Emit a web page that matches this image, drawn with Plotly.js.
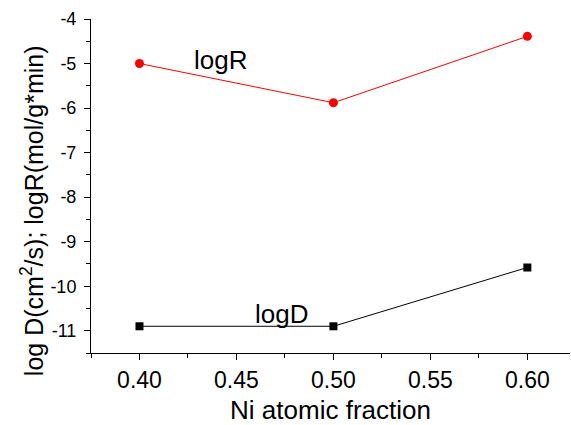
<!DOCTYPE html>
<html><head><meta charset="utf-8">
<script src="https://cdn.plot.ly/plotly-3.0.1.min.js"></script>
<style>body{margin:0;background:#fff}#c{width:571px;height:425px}</style>
</head><body><div id="c"></div>
<script>
const fraction = [0.40, 0.50, 0.60];
const logR = [-5.0, -5.88, -4.39];
const logD = [-10.9, -10.9, -9.58];
const xTicks = [0.40, 0.45, 0.50, 0.55, 0.60];
const xTickText = ['0.40','0.45','0.50','0.55','0.60'];
const yTicks = [-4,-5,-6,-7,-8,-9,-10,-11];
const yTickText = ['-4','-5','-6','-7','-8','-9','-10','-11'];

const font = 'Arial, "Liberation Sans", sans-serif';
const data = [
  {x: fraction, y: logR, mode: 'lines+markers', line: {color: '#ff0000', width: 1},
   marker: {symbol: 'circle', size: 9, color: '#ff0000'}, showlegend: false},
  {x: fraction, y: logD, mode: 'lines+markers', line: {color: '#000000', width: 1},
   marker: {symbol: 'square', size: 8, color: '#000000'}, showlegend: false}
];
const layout = {
  width: 571, height: 425,
  margin: {l: 91, r: 1, t: 19, b: 72},
  paper_bgcolor: '#fff', plot_bgcolor: '#fff',
  font: {family: font, color: '#000'},
  xaxis: {range: [0.375, 0.622], tickvals: xTicks, ticktext: xTickText,
    ticks: 'outside', ticklen: 6, tickwidth: 1, tickcolor: '#000',
    minor: {dtick: 0.025, tick0: 0.375, ticks: 'outside', ticklen: 4, tickcolor: '#000'},
    showline: true, linecolor: '#000', linewidth: 1, showgrid: false, zeroline: false,
    tickfont: {size: 23, family: font},
    title: {text: 'Ni atomic fraction', font: {size: 26, family: font}, standoff: 15}},
  yaxis: {range: [-11.5, -4], tickvals: yTicks, ticktext: yTickText,
    ticks: 'outside', ticklen: 6, tickwidth: 1, tickcolor: '#000', ticklabelstandoff: 4,
    minor: {dtick: 0.5, tick0: -4, ticks: 'outside', ticklen: 4, tickcolor: '#000'},
    showline: true, linecolor: '#000', linewidth: 1, showgrid: false, zeroline: false,
    tickfont: {size: 18, family: font}},
  annotations: [
    {xref: 'paper', yref: 'paper', x: -0.123, y: 0.425, xanchor: 'center', yanchor: 'middle',
     textangle: -90, text: 'log D(cm<sup>2</sup>/s); logR(mol/g*min)', showarrow: false,
     font: {size: 25, family: font}},
    {x: 0.442, y: -4.93, text: 'logR', showarrow: false, font: {size: 26, family: font}},
    {x: 0.473, y: -10.62, text: 'logD', showarrow: false, font: {size: 26, family: font}}
  ]
};
Plotly.newPlot('c', data, layout, {displayModeBar: false, staticPlot: true});
</script></body></html>
